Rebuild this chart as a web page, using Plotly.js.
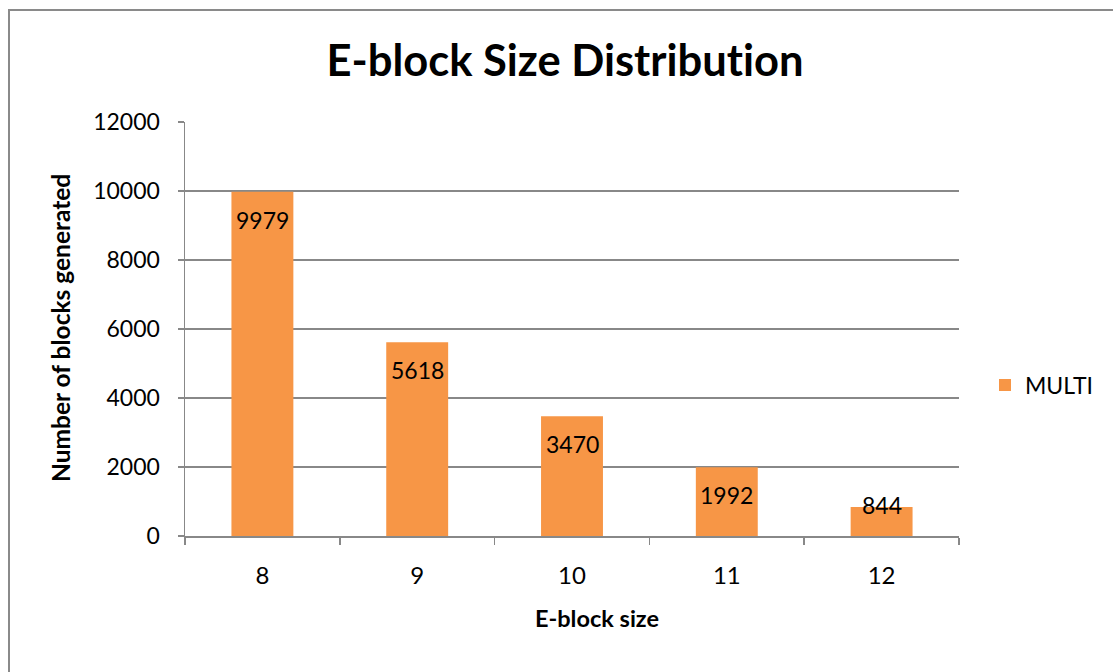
<!DOCTYPE html>
<html>
<head>
<meta charset="utf-8">
<script src="https://cdn.plot.ly/plotly-3.0.1.min.js"></script>
<style>
  html, body { margin: 0; padding: 0; background: #fff; }
  #wrap { position: relative; width: 1113px; height: 672px; overflow: hidden; }
  #chart { position: absolute; left: 0; top: 0; width: 1113px; height: 672px; }
  #chart text { font-variant-ligatures: none; font-feature-settings: "liga" 0; }
  #frame { position: absolute; left: 8px; top: 9px; width: 1200px; height: 800px;
           border: 2px solid #8a8a8a; pointer-events: none; }
</style>
</head>
<body>
<div id="wrap">
  <div id="chart"></div>
  <div id="frame"></div>
</div>
<script>
// E-block sizes and how many blocks of each size were generated
const blockSizes = ['8', '9', '10', '11', '12'];
const blockCounts = [9979, 5618, 3470, 1992, 844];
const seriesName = 'MULTI';

const FONT = 'Lato, "Open Sans", sans-serif';
const AXIS_GREY = '#888888';
const BAR_ORANGE = '#F79646';

const margin = { l: 185, r: 154, t: 122, b: 136, autoexpand: false };
const plotH = 672 - margin.t - margin.b;
const yMax = 12000;

// value labels sit just inside the top of each bar, kept above the axis for short bars
const labelAnnotations = blockSizes.map((s, i) => {
  const barPx = blockCounts[i] / yMax * plotH;
  const offset = Math.min(12, barPx - 47);
  return {
    x: i, y: blockCounts[i], xref: 'x', yref: 'y',
    text: String(blockCounts[i]), showarrow: false,
    yanchor: 'top', yshift: -offset,
    font: { family: FONT, size: 23, color: '#000' }
  };
});

const trace = {
  type: 'bar',
  name: seriesName,
  x: blockSizes,
  y: blockCounts,
  width: 0.4,
  marker: { color: BAR_ORANGE, line: { width: 0 } },
  hoverinfo: 'x+y'
};

const layout = {
  width: 1113, height: 672,
  margin: margin,
  paper_bgcolor: '#ffffff', plot_bgcolor: '#ffffff',
  font: { family: FONT, color: '#000' },
  title: {
    text: '<b>E-block Size Distribution</b>',
    font: { family: FONT, size: 43.5, color: '#000' },
    xref: 'container', yref: 'container',
    x: 565 / 1113, xanchor: 'center',
    y: 1 - 61 / 672, yanchor: 'middle'
  },
  showlegend: true,
  legend: {
    xref: 'container', x: 985 / 1113, xanchor: 'left',
    y: (536 - 385) / 414, yanchor: 'middle',
    font: { family: FONT, size: 23, color: '#000' },
    bgcolor: 'rgba(0,0,0,0)'
  },
  bargap: 0.6,
  xaxis: {
    type: 'category',
    range: [-0.5, blockSizes.length - 0.5],
    showline: true, linecolor: AXIS_GREY, linewidth: 1.5,
    ticks: 'outside', tickson: 'boundaries', ticklen: 7,
    tickcolor: AXIS_GREY, tickwidth: 1.5,
    showgrid: false, zeroline: false,
    tickfont: { family: FONT, size: 24, color: '#000' },
    ticklabelstandoff: 18
  },
  yaxis: {
    range: [0, yMax], dtick: 2000, tick0: 0, tickformat: 'd',
    showline: true, linecolor: AXIS_GREY, linewidth: 1.5,
    ticks: 'outside', ticklen: 6, tickcolor: AXIS_GREY, tickwidth: 1.5,
    showgrid: true, gridcolor: AXIS_GREY, gridwidth: 1.5,
    zeroline: false,
    tickfont: { family: FONT, size: 23, color: '#000' },
    ticklabelstandoff: 13
  },
  annotations: labelAnnotations.concat([
    {
      text: '<b>Number of blocks generated</b>', textangle: -90,
      xref: 'paper', yref: 'paper', x: (60 - 185) / 774, y: (536 - 328) / 414,
      xanchor: 'center', yanchor: 'middle', showarrow: false,
      font: { family: FONT, size: 24.5, color: '#000' }
    },
    {
      text: '<b>E-block size</b>',
      xref: 'paper', yref: 'paper', x: (597 - 185) / 774, y: (536 - 618) / 414,
      xanchor: 'center', yanchor: 'middle', showarrow: false,
      font: { family: FONT, size: 23.5, color: '#000' }
    }
  ])
};

Plotly.newPlot('chart', [trace], layout, { displayModeBar: false, staticPlot: true });
</script>
</body>
</html>
